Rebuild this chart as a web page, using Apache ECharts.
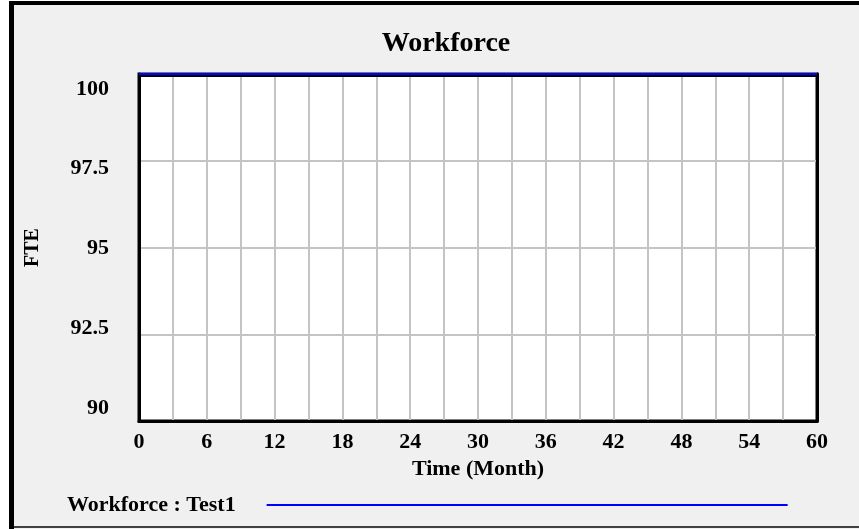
<!DOCTYPE html>
<html>
<head>
<meta charset="utf-8">
<script src="https://cdn.jsdelivr.net/npm/echarts@6/dist/echarts.min.js"></script>
<style>
  html, body { margin: 0; padding: 0; background: #fff; }
  #chart { width: 859px; height: 529px; }
</style>
</head>
<body>
<div id="chart"></div>
<script>
// Workforce : Test1 (FTE over time)
var months = [0, 6, 12, 18, 24, 30, 36, 42, 48, 54, 60]
var workforce = [100, 100, 100, 100, 100, 100, 100, 100, 100, 100, 100]
var xMin = 0, xMax = 60, xStep = 6
var yMin = 90, yMax = 100, yStep = 2.5

var font = 'Liberation Serif'
var chart = echarts.init(document.getElementById('chart'))

var option = {
  backgroundColor: '#f0f0f0',
  animation: false,
  title: {
    text: 'Workforce',
    left: 441,
    top: 25,
    textAlign: 'center',
    textStyle: { fontFamily: font, fontSize: 28, fontWeight: 'bold', color: '#000' }
  },
  legend: {
    left: 62,
    top: 489,
    align: 'right',
    icon: 'rect',
    itemWidth: 521,
    itemHeight: 2,
    textStyle: {
      fontFamily: font, fontSize: 22, fontWeight: 'bold', color: '#000',
      padding: [0, 26, 0, 0]
    },
    data: ['Workforce : Test1']
  },
  graphic: [
    // outer frame
    { type: 'rect', shape: { x: 0, y: 0, width: 9, height: 529 }, style: { fill: '#fff' } },
    { type: 'rect', shape: { x: 0, y: 0, width: 859, height: 1 }, style: { fill: '#fff' } },
    { type: 'rect', shape: { x: 9, y: 1, width: 850, height: 4 }, style: { fill: '#000' } },
    { type: 'rect', shape: { x: 9, y: 1, width: 5, height: 528 }, style: { fill: '#000' } },
    { type: 'rect', shape: { x: 14, y: 526, width: 845, height: 2 }, style: { fill: '#404040' } }
  ],
  grid: [
    {
      left: 139, right: 42, top: 74, bottom: 108,
      show: true, backgroundColor: '#fff', borderColor: '#000', borderWidth: 3
    },
    // label-only grid: tick labels sit inside the frame like the original
    { left: 139, right: 42, top: 89, bottom: 121 }
  ],
  xAxis: [
    {
      type: 'value', gridIndex: 0,
      min: xMin, max: xMax, interval: xStep,
      name: 'Time (Month)', nameLocation: 'middle', nameGap: 32,
      nameTextStyle: { fontFamily: font, fontSize: 22, fontWeight: 'bold', color: '#000' },
      axisLine: { show: true, lineStyle: { color: '#000', width: 3 } },
      axisTick: { show: false },
      axisLabel: { margin: 10, fontFamily: font, fontSize: 22, fontWeight: 'bold', color: '#000' },
      splitLine: { show: true, lineStyle: { color: '#c4c4c4', width: 2 } },
      minorTick: { show: false, splitNumber: 2 },
      minorSplitLine: { show: true, lineStyle: { color: '#c4c4c4', width: 2 } }
    },
    { type: 'value', gridIndex: 1, min: xMin, max: xMax, show: false }
  ],
  yAxis: [
    {
      type: 'value', gridIndex: 0,
      min: yMin, max: yMax, interval: yStep,
      name: 'FTE', nameLocation: 'middle', nameGap: 96,
      nameTextStyle: { fontFamily: font, fontSize: 20, fontWeight: 'bold', color: '#000' },
      axisLine: { show: true, lineStyle: { color: '#000', width: 3 } },
      axisTick: { show: false },
      axisLabel: { show: false },
      splitLine: { show: true, lineStyle: { color: '#c4c4c4', width: 2 } }
    },
    {
      type: 'value', gridIndex: 1,
      min: yMin, max: yMax, interval: yStep,
      axisLine: { show: false },
      axisTick: { show: false },
      splitLine: { show: false },
      axisLabel: { margin: 30, fontFamily: font, fontSize: 22, fontWeight: 'bold', color: '#000' }
    },
    {
      // right frame edge drawn over the last gridline
      type: 'value', gridIndex: 0, position: 'right',
      min: yMin, max: yMax, interval: yStep,
      axisLine: { show: true, onZero: false, lineStyle: { color: '#000', width: 3 } },
      axisTick: { show: false },
      axisLabel: { show: false },
      splitLine: { show: false }
    }
  ],
  series: [
    {
      name: 'Workforce : Test1',
      type: 'line',
      xAxisIndex: 0,
      yAxisIndex: 0,
      showSymbol: false,
      z: 5,
      itemStyle: { color: '#0000ff' },
      lineStyle: {
        color: '#0000ff', width: 2,
        shadowColor: '#000', shadowOffsetY: 2, shadowBlur: 0
      },
      data: months.map(function (m, i) { return [m, workforce[i]] })
    }
  ]
}

chart.setOption(option)
</script>
</body>
</html>
